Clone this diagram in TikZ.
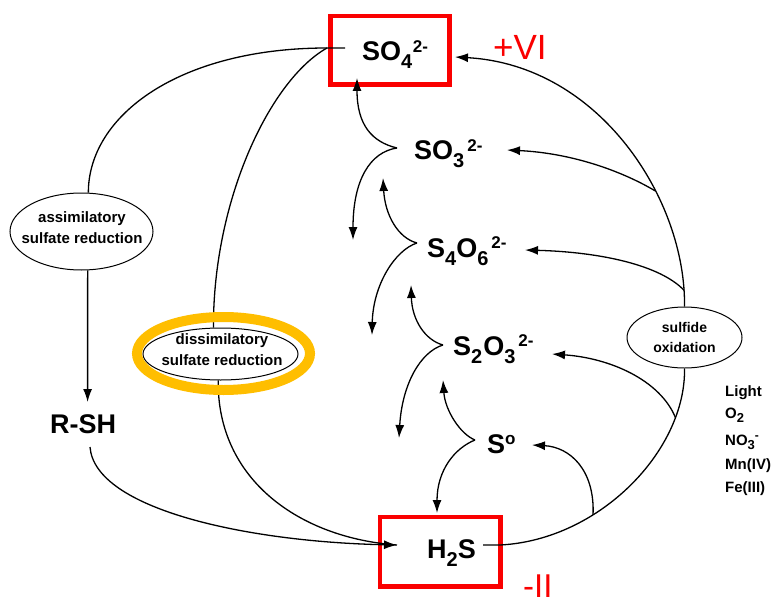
\documentclass[tikz,border=0pt]{standalone}
\usepackage{fontspec}
\setmainfont{Liberation Sans}
\usetikzlibrary{shapes.geometric,arrows.meta}
\definecolor{hlorange}{RGB}{255,190,0}
\definecolor{boxred}{RGB}{250,0,0}
\newcommand{\lsub}[1]{\raisebox{-8pt}{\fontsize{20}{20}\selectfont #1}}
\newcommand{\lsup}[1]{\raisebox{8.5pt}{\fontsize{17}{17}\selectfont #1}}
\newcommand{\ssub}[1]{\raisebox{-4pt}{\fontsize{13}{13}\selectfont #1}}
\newcommand{\ssup}[1]{\raisebox{5.5pt}{\fontsize{12}{12}\selectfont #1}}
\begin{document}
\begin{tikzpicture}[x=1pt,y=-1pt,
  spec/.style={inner sep=0pt, anchor=base west, font=\fontsize{27}{30}\selectfont\bfseries},
  redbox/.style={draw=boxred, line width=4.5pt, inner sep=0pt},
  proc/.style={ellipse, draw, line width=1pt, fill=white, inner sep=0pt},
  proctext/.style={align=center, inner sep=0pt, font=\fontsize{15}{21}\selectfont\bfseries},
  cond/.style={anchor=base west, inner sep=0pt, font=\fontsize{15}{15}\selectfont\bfseries},
  ox/.style={anchor=base west, inner sep=0pt, text=boxred, font=\fontsize{35}{35}\selectfont},
  conn/.style={line width=1.3pt},
  arr/.style={conn, -{Latex[length=13pt,width=9pt]}}]
\useasboundingbox (0,0) rectangle (783,604);

% boxes and species
\node[redbox, minimum width=119.4pt, minimum height=68.7pt] (so4box) at (390,50.2) {};
\node[spec] (so4) at (362,61) {SO\lsub{4}\hspace{0.5pt}\lsup{2-}};
\node[spec] (so3) at (414,160) {SO\lsub{3}\hspace{3pt}\lsup{2-}};
\node[spec] (s4o6) at (427,257) {S\lsub{4}O\lsub{6}\hspace{3pt}\lsup{2-}};
\node[spec] (s2o3) at (453,355) {S\lsub{2}\hspace{1pt}O\lsub{3}\hspace{3pt}\lsup{2-}};
\node[spec] (s0) at (487,453) {S\lsup{o}};
\node[redbox, minimum width=120.5pt, minimum height=69.5pt] (h2sbox) at (440.25,551.75) {};
\node[spec] (h2s) at (427,558) {H\lsub{2}S};
\node[spec] (rsh) at (50,433) {R-SH};

\node[ox] (vi) at (493,60) {+VI};
\node[ox, font=\fontsize{33}{33}\selectfont] (ii) at (523,597) {-II};

% conditions
\node[cond] (light) at (725,396) {Light};
\node[cond] (o2) at (725,418) {O\ssub{2}};
\node[cond] (no3) at (725,445) {NO\ssub{3}\ssup{-}};
\node[cond] (mn) at (725,469) {Mn(IV)};
\node[cond] (fe) at (725,492) {Fe(III)};

% process ellipses
\node[proc, minimum width=143pt, minimum height=77pt] (asr) at (81.5,231.5) {};
\node[proctext] (asrt) at (82,228) {assimilatory\\sulfate reduction};
\node[proc, minimum width=155pt, minimum height=52pt] (dsr) at (220.5,354) {};
\node[proctext] (dsrt) at (222,350) {dissimilatory\\sulfate reduction};
\node[proc, minimum width=115pt, minimum height=61pt] (sox) at (684.5,337.5) {};
\node[proctext, font=\fontsize{14}{20}\selectfont\bfseries] (soxt) at (684.5,337) {sulfide\\oxidation};

% named free ends
\coordinate (so4w) at (345,48);
\coordinate (so4j) at (327,48);
\coordinate (so4in) at (455,57);
\coordinate (so4up) at (357,78);
\coordinate (so3in) at (507,150);
\coordinate (s4o6in) at (525,250);
\coordinate (s2o3in) at (552,354);
\coordinate (s0in) at (532,445);
\coordinate (h2sin) at (397,545);
\coordinate (h2sout) at (483,545);
\coordinate (h2sup) at (437,513);
\coordinate (rshin) at (87.6,402);
\coordinate (rshout) at (90,447);
\coordinate (c3) at (397,148);
\coordinate (c4) at (417,243);
\coordinate (c2) at (443,345);
\coordinate (c0) at (475,440);
\coordinate (d3) at (353,240);
\coordinate (u4) at (383,178);
\coordinate (d4) at (372,335);
\coordinate (u2) at (411,285);
\coordinate (d2) at (399,438);
\coordinate (u0) at (443,380);

% reduction side
\draw[conn] (so4w) -- (so4j) .. controls (180,48) and (88.3,115) .. (asr.80);
\draw[conn] (so4j) .. controls (270,80) and (213,200) .. (dsr.105);
\draw[arr] (asr.-81) -- (rshin);
\draw[conn] (dsr.-95) .. controls (217,480) and (300,538) .. (h2sin);
\draw[arr] (rshout) .. controls (95,510) and (250,542) .. (h2sin);

% oxidation side
\draw[conn] (h2sout) -- ++(17,0) .. controls (600,540) and (686,450) .. coordinate[pos=0.335] (b5) coordinate[pos=0.8] (b4) (sox.south);
\draw[arr] (sox.north) .. controls (686,200) and (600,65) .. coordinate[pos=0.05] (b2) coordinate[pos=0.35] (b1) (so4in);
\draw[arr] (b1) .. controls (620,170) and (570,153) .. (so3in);
\draw[arr] (b2) .. controls (660,265) and (600,252) .. (s4o6in);
\draw[arr] (b4) .. controls (660,380) and (610,358) .. (s2o3in);
\draw[arr] (b5) .. controls (595,470) and (570,447) .. (s0in);

% disproportionation brackets
\draw[arr] (c3) .. controls (372,142) and (357,125) .. (so4up);
\draw[arr] (c3) .. controls (370,152) and (353,180) .. (d3);
\draw[arr] (c4) .. controls (398,238) and (385,215) .. (u4);
\draw[arr] (c4) .. controls (395,250) and (373,285) .. (d4);
\draw[arr] (c2) .. controls (425,340) and (412,320) .. (u2);
\draw[arr] (c2) .. controls (420,352) and (402,385) .. (d2);
\draw[arr] (c0) .. controls (460,434) and (445,410) .. (u0);
\draw[arr] (c0) .. controls (455,448) and (437,470) .. (h2sup);

% highlight
\node[ellipse, draw=hlorange, line width=10pt, minimum width=173pt, minimum height=73pt, inner sep=0pt] (dsrhl) at (223.5,353.5) {};
\end{tikzpicture}
\end{document}
